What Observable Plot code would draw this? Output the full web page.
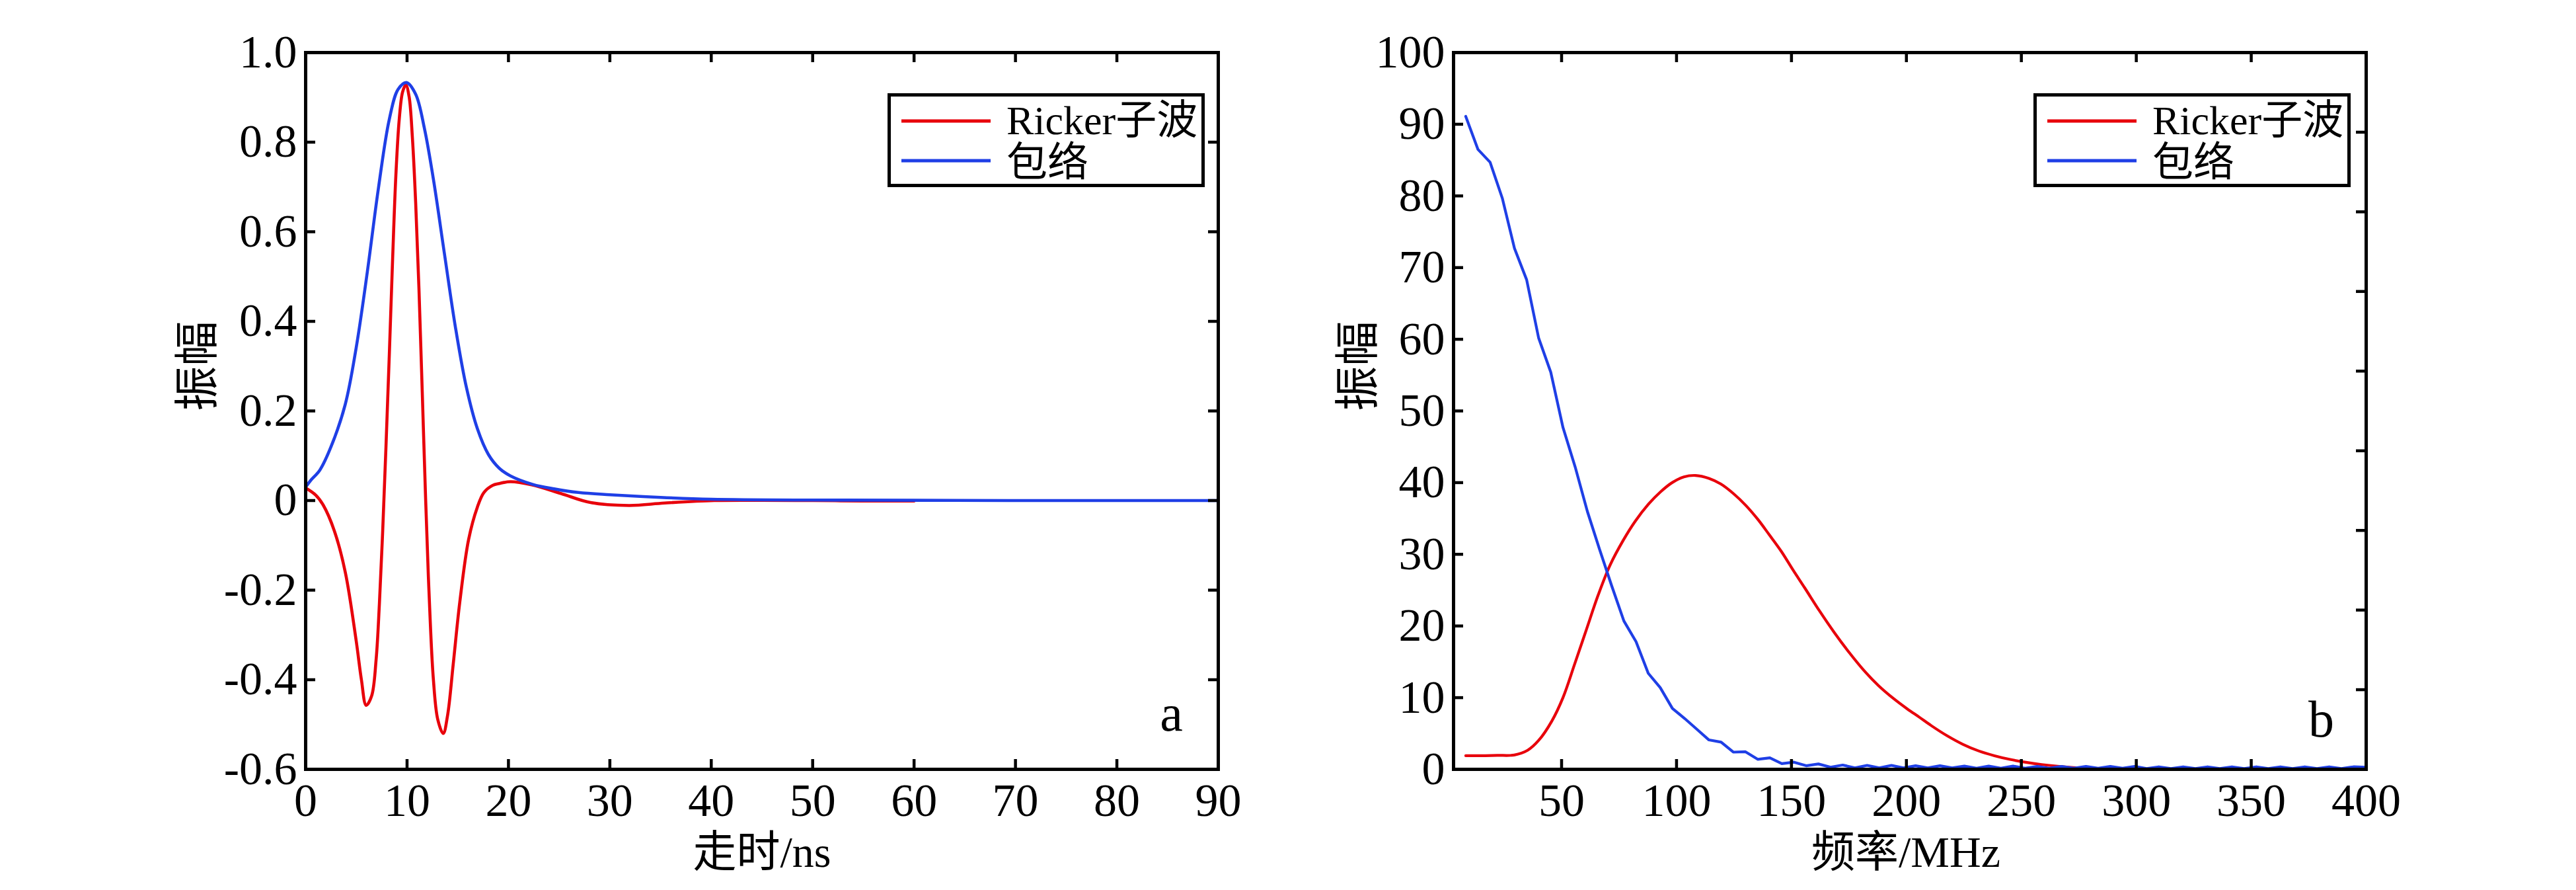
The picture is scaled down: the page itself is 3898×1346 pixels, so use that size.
<!DOCTYPE html>
<html>
<head>
<meta charset="utf-8">
<script src="https://cdn.jsdelivr.net/npm/d3@7"></script>
<script src="https://cdn.jsdelivr.net/npm/@observablehq/plot@0.6"></script>
<style>
  html, body { margin: 0; padding: 0; background: #fff; }
  #root { position: relative; width: 3898px; height: 1346px; overflow: hidden; background: #fff; }
  .panel { position: absolute; top: 0; }
  .legend { position: absolute; }
</style>
</head>
<body>
<div id="root"></div>
<script>
// ---------------- DATA ----------------
// Panel a: time domain (ns)
const timeRed = [0, 1.0, 1.73, 2.82, 3.91, 4.99, 5.5, 5.97, 6.51, 6.95, 7.27, 7.6, 7.92, 8.25, 8.58, 8.9, 9.23, 9.56, 9.88, 10.2, 10.53, 10.85, 11.18, 11.5, 11.83, 12.16, 12.59, 13.03, 13.57, 14.0, 14.55, 15.2, 16.07, 16.93, 17.58, 18.45, 19.1, 20.2, 22.3, 25.2, 28.1, 31.9, 35.4, 40.3, 45, 50, 55, 60];
const ampRed = [0.028, 0.012, -0.010, -0.067, -0.160, -0.314, -0.40, -0.457, -0.436, -0.355, -0.232, -0.067, 0.119, 0.325, 0.541, 0.727, 0.851, 0.912, 0.928, 0.902, 0.809, 0.665, 0.469, 0.242, 0.005, -0.201, -0.397, -0.489, -0.520, -0.479, -0.366, -0.227, -0.087, -0.015, 0.018, 0.034, 0.038, 0.042, 0.035, 0.0155, -0.0045, -0.011, -0.0056, 0, 0.0005, 0, -0.001, -0.001];
const timeEnv = [0, 0.5, 1.4, 2.5, 3.91, 4.99, 6.08, 7.17, 8.25, 9.12, 9.94, 10.85, 11.72, 12.6, 13.68, 14.77, 15.85, 16.94, 18.02, 19.1, 20.2, 22.4, 24.5, 26.9, 30, 35, 40, 50, 60, 70, 80, 90];
const ampEnv = [0.03, 0.045, 0.068, 0.12, 0.215, 0.342, 0.510, 0.696, 0.851, 0.918, 0.933, 0.907, 0.830, 0.717, 0.552, 0.387, 0.253, 0.160, 0.103, 0.072, 0.055, 0.036, 0.026, 0.018, 0.013, 0.007, 0.003, 0.001, 0.0005, 0, 0, 0];

// Panel b: frequency domain (MHz)
const freqRed = [8.3, 15, 22, 29.4, 35.2, 40.1, 45.7, 50.6, 55.7, 60.8, 65.9, 71.1, 76.9, 82.0, 87.8, 93.0, 98.1, 103.2, 108.3, 114.1, 119.3, 125.0, 130.2, 135.3, 140.4, 145.6, 150.7, 155.8, 162.2, 168.6, 175.1, 181.5, 187.8, 194.3, 200.5, 205.5, 210.8, 217.6, 224.5, 231.4, 238.3, 245.1, 252.0, 258.8, 265.7, 272.6, 280, 290, 300, 320, 350, 400];
const specRed = [1.9, 1.9, 1.95, 2.0, 2.65, 4.06, 6.7, 10.0, 14.7, 19.5, 24.3, 28.5, 32.0, 34.6, 37.0, 38.7, 40.0, 40.8, 41.0, 40.6, 39.8, 38.4, 36.8, 34.9, 32.7, 30.4, 27.8, 25.3, 22.1, 19.1, 16.3, 13.8, 11.7, 9.9, 8.4, 7.3, 6.1, 4.7, 3.5, 2.57, 1.9, 1.38, 0.98, 0.67, 0.43, 0.25, 0.12, 0.05, 0.02, 0, 0, 0];
const freqEnv = [8.3, 13.6, 18.9, 24.2, 29.5, 34.8, 40.0, 45.3, 50.6, 55.9, 61.2, 66.5, 71.8, 77.1, 82.4, 87.7, 92.9, 98.2, 103.5, 108.8, 114.1, 119.4, 124.7, 130.0, 135.3, 140.6, 145.8, 151.1, 156.4, 161.7, 167.0, 172.3, 177.6, 182.9, 188.2, 193.5, 198.7, 204.0, 209.3, 214.6, 219.9, 225.2, 230.5, 235.8, 241.1, 246.4, 251.6, 256.9, 262.2, 267.5, 272.8, 278.1, 283.4, 288.7, 294.0, 299.3, 304.5, 309.8, 315.1, 320.4, 325.7, 331.0, 336.3, 341.6, 346.9, 352.2, 357.4, 362.7, 368.0, 373.3, 378.6, 383.9, 389.2, 394.5, 399.8];
const specEnv = [91.1, 86.5, 84.7, 79.7, 72.7, 68.3, 60.2, 55.4, 47.7, 42.2, 36.0, 30.7, 25.6, 20.7, 17.8, 13.4, 11.4, 8.5, 7.1, 5.6, 4.1, 3.8, 2.4, 2.45, 1.4, 1.6, 0.8, 1.0, 0.5, 0.75, 0.3, 0.6, 0.2, 0.55, 0.2, 0.55, 0.2, 0.5, 0.2, 0.5, 0.2, 0.45, 0.15, 0.45, 0.15, 0.45, 0.15, 0.4, 0.15, 0.4, 0.15, 0.4, 0.15, 0.4, 0.15, 0.4, 0.1, 0.35, 0.1, 0.35, 0.1, 0.35, 0.1, 0.35, 0.1, 0.35, 0.1, 0.35, 0.1, 0.35, 0.1, 0.35, 0.1, 0.35, 0.3];

// Axes ticks
const aXTicks = [0, 10, 20, 30, 40, 50, 60, 70, 80, 90];
const aYTicks = [-0.6, -0.4, -0.2, 0, 0.2, 0.4, 0.6, 0.8, 1.0];
const bXTicks = [50, 100, 150, 200, 250, 300, 350, 400];
const bYTicks = [0, 10, 20, 30, 40, 50, 60, 70, 80, 90, 100];
const bYTicksRight = [11.11, 22.22, 33.33, 44.44, 55.56, 66.67, 77.78, 88.89];

// Labels
const legendLabels = ["Ricker子波", "包络"];
const yLabel = "振幅";
const aXLabel = "走时/ns";
const bXLabel = "频率/MHz";
const panelLetters = ["a", "b"];

// ---------------- STYLE ----------------
const RED = "#e8000b";
const BLUE = "#1f3fe6";
const FONT = "'Liberation Serif', 'Times New Roman', 'Noto Sans CJK SC', serif";
const W = 1949, H = 1346;

const redA = timeRed.map((t, i) => ({x: t, y: ampRed[i]}));
const envA = timeEnv.map((t, i) => ({x: t, y: ampEnv[i]}));
const redB = freqRed.map((f, i) => ({x: f, y: specRed[i]}));
const envB = freqEnv.map((f, i) => ({x: f, y: specEnv[i]}));

function panel(cfg) {
  const pw = W - cfg.ml - cfg.mr;
  const ph = H - cfg.mt - cfg.mb;
  const tl = 15;
  const inner = (arr, dom) => arr.filter(d => d > dom[0] + 1e-9 && d < dom[1] - 1e-9);
  const xIn = inner(cfg.xTicks, cfg.xDomain);
  const yIn = inner(cfg.yTicks, cfg.yDomain);
  const yInR = cfg.yTicksRight ? cfg.yTicksRight : yIn;
  return Plot.plot({
    width: W, height: H,
    marginLeft: cfg.ml, marginRight: cfg.mr, marginTop: cfg.mt, marginBottom: cfg.mb,
    x: {domain: cfg.xDomain},
    y: {domain: cfg.yDomain},
    style: {fontFamily: FONT, fontSize: "70px", background: "white", color: "black", overflow: "visible"},
    marks: [
      Plot.line(cfg.red, {x: "x", y: "y", stroke: RED, strokeWidth: cfg.lw, curve: cfg.curveRed}),
      Plot.line(cfg.env, {x: "x", y: "y", stroke: BLUE, strokeWidth: cfg.lw, curve: cfg.curveEnv}),
      Plot.tickY(yIn, {y: d => d, stroke: "black", strokeWidth: 4.5, insetRight: pw - tl}),
      Plot.tickY(yInR, {y: d => d, stroke: "black", strokeWidth: 4.5, insetLeft: pw - tl}),
      Plot.tickX(xIn, {x: d => d, stroke: "black", strokeWidth: 4.5, insetTop: ph - tl}),
      Plot.tickX(xIn, {x: d => d, stroke: "black", strokeWidth: 4.5, insetBottom: ph - tl}),
      Plot.frame({stroke: "black", strokeWidth: 5}),
      Plot.axisY(cfg.yTicks, {tickSize: 0, tickPadding: 13, tickFormat: cfg.yFmt, fontSize: 70, fontFamily: FONT, label: null}),
      Plot.axisX(cfg.xTicks, {tickSize: 0, tickPadding: 21, tickFormat: d => String(d), fontSize: 70, fontFamily: FONT, label: null}),
      Plot.text([yLabel], {text: d => d, frameAnchor: "left", dx: cfg.yLabelDx, rotate: -90, fontSize: 68, fontFamily: FONT}),
      Plot.text([cfg.xLabel], {text: d => d, frameAnchor: "bottom", dy: 147, dx: cfg.xLabelDx, fontSize: 66, fontFamily: FONT}),
      Plot.text([cfg.letter], {text: d => d, frameAnchor: "bottom-right", dx: cfg.letterDx, dy: cfg.letterDy, lineAnchor: "bottom", textAnchor: "middle", fontSize: 78, fontFamily: FONT})
    ]
  });
}

function legend(left, top) {
  const svg = d3.create("svg")
    .attr("class", "legend")
    .attr("width", 480).attr("height", 142)
    .style("left", left + "px").style("top", top + "px");
  svg.append("rect").attr("x", 2.5).attr("y", 2.5).attr("width", 475).attr("height", 137)
    .attr("fill", "white").attr("stroke", "black").attr("stroke-width", 5);
  const colors = [RED, BLUE];
  legendLabels.forEach((lab, i) => {
    svg.append("line").attr("x1", 21).attr("x2", 156)
      .attr("y1", 42 + 60 * i).attr("y2", 42 + 60 * i)
      .attr("stroke", colors[i]).attr("stroke-width", 5);
    svg.append("text").attr("x", 180).attr("y", 62 + 64 * i)
      .attr("font-family", FONT).attr("font-size", 62).attr("fill", "black")
      .text(lab);
  });
  return svg.node();
}

const root = document.getElementById("root");

const fmtA = d => d === 0 ? "0" : d.toFixed(1);
const fmtB = d => String(d);

const pa = panel({
  ml: 462, mr: W - 1843, mt: 79, mb: H - 1163,
  xDomain: [0, 90], yDomain: [-0.6, 1.0],
  xTicks: aXTicks, yTicks: aYTicks, yFmt: fmtA,
  red: redA, env: envA, lw: 4.6, curveRed: "catmull-rom", curveEnv: "catmull-rom",
  xLabel: aXLabel, xLabelDx: 0, yLabelDx: -162,
  letter: panelLetters[0], letterDx: -71, letterDy: -59
});
pa.classList.add("panel");
pa.style.left = "0px";
root.appendChild(pa);

const pb = panel({
  ml: 2199 - W, mr: 2 * W - 3580, mt: 79, mb: H - 1163,
  xDomain: [3, 400], yDomain: [0, 100],
  xTicks: bXTicks, yTicks: bYTicks, yTicksRight: bYTicksRight, yFmt: fmtB,
  red: redB, env: envB, lw: 4.2, curveRed: "catmull-rom", curveEnv: "linear",
  xLabel: bXLabel, xLabelDx: -6, yLabelDx: -143,
  letter: panelLetters[1], letterDx: -68, letterDy: -50
});
pb.classList.add("panel");
pb.style.left = W + "px";
root.appendChild(pb);

root.appendChild(legend(1343, 141));
root.appendChild(legend(3077, 141));
</script>
</body>
</html>
